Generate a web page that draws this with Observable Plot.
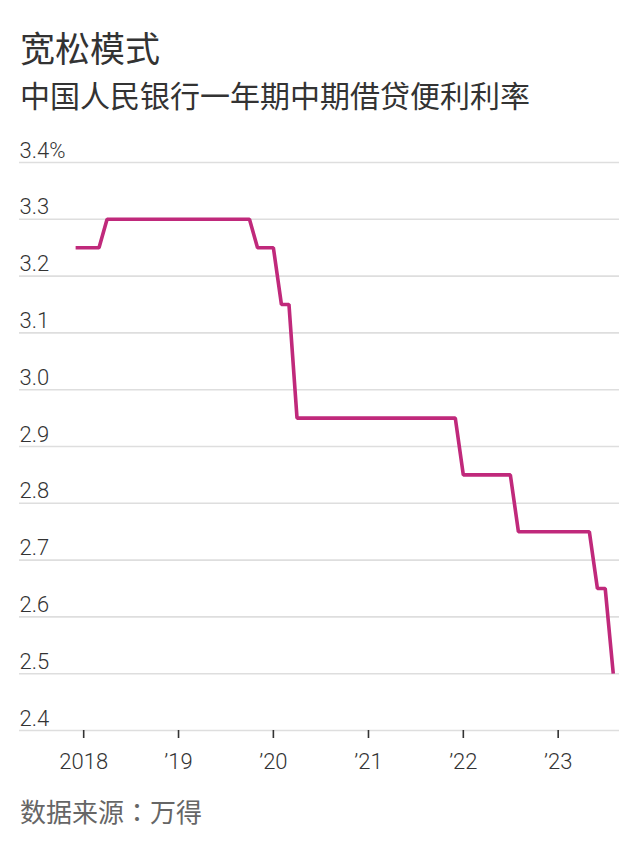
<!DOCTYPE html>
<html>
<head>
<meta charset="utf-8">
<script src="https://cdn.jsdelivr.net/npm/d3@7"></script>
<script src="https://cdn.jsdelivr.net/npm/@observablehq/plot@0.6"></script>
<style>
  html, body { margin: 0; padding: 0; background: #fff; }
  #wrap { position: relative; width: 639px; height: 852px; overflow: hidden; }
  .t { position: absolute; left: 20px; white-space: nowrap; font-family: "Noto Sans CJK SC", "Noto Sans", sans-serif; }
  #title { top: 29px; font-size: 35px; line-height: 35px; color: #333; }
  #subtitle { top: 79px; font-size: 30px; line-height: 30px; color: #333; }
  #caption { top: 798px; font-size: 26px; line-height: 26px; color: #666; }
  #caption .colon { font-family: "Noto Sans CJK TC", "Noto Sans CJK JP", sans-serif; }
  #chart { position: absolute; left: 0; top: 130px; }
</style>
</head>
<body>
<div id="wrap">
  <div class="t" id="title">宽松模式</div>
  <div class="t" id="subtitle">中国人民银行一年期中期借贷便利利率</div>
  <div id="chart"></div>
  <div class="t" id="caption">数据来源<span class="colon">：</span>万得</div>
</div>
<script>
// Monthly 1-year MLF rate (%), first of month
const months = [
  "2017-12",
  "2018-01","2018-02","2018-03","2018-04","2018-05","2018-06","2018-07","2018-08","2018-09","2018-10","2018-11","2018-12",
  "2019-01","2019-02","2019-03","2019-04","2019-05","2019-06","2019-07","2019-08","2019-09","2019-10","2019-11","2019-12",
  "2020-01","2020-02","2020-03","2020-04","2020-05","2020-06","2020-07","2020-08","2020-09","2020-10","2020-11","2020-12",
  "2021-01","2021-02","2021-03","2021-04","2021-05","2021-06","2021-07","2021-08","2021-09","2021-10","2021-11","2021-12",
  "2022-01","2022-02","2022-03","2022-04","2022-05","2022-06","2022-07","2022-08","2022-09","2022-10","2022-11","2022-12",
  "2023-01","2023-02","2023-03","2023-04","2023-05","2023-06","2023-07","2023-08"
];
const rates = [
  3.25,
  3.25,3.25,3.25,3.30,3.30,3.30,3.30,3.30,3.30,3.30,3.30,3.30,
  3.30,3.30,3.30,3.30,3.30,3.30,3.30,3.30,3.30,3.30,3.25,3.25,
  3.25,3.15,3.15,2.95,2.95,2.95,2.95,2.95,2.95,2.95,2.95,2.95,
  2.95,2.95,2.95,2.95,2.95,2.95,2.95,2.95,2.95,2.95,2.95,2.95,
  2.85,2.85,2.85,2.85,2.85,2.85,2.85,2.75,2.75,2.75,2.75,2.75,
  2.75,2.75,2.75,2.75,2.75,2.65,2.65,2.50
];
const yTicks = [2.4, 2.5, 2.6, 2.7, 2.8, 2.9, 3.0, 3.1, 3.2, 3.3, 3.4];
const yTickLabels = ["2.4","2.5","2.6","2.7","2.8","2.9","3.0","3.1","3.2","3.3","3.4%"];
const xTickDates = ["2018-01-01","2019-01-01","2020-01-01","2021-01-01","2022-01-01","2023-01-01"];
const xTickLabels = ["2018","’19","’20","’21","’22","’23"];
const xDomain = ["2017-04-29", "2023-08-25"];

const data = months.map((m, i) => ({date: new Date(m + "-01T00:00:00Z"), rate: rates[i]}));
const xTicks = xTickDates.map(d => new Date(d + "T00:00:00Z"));

const numFont = "Roboto, 'DejaVu Sans Condensed', sans-serif";

const chart = Plot.plot({
  width: 639,
  height: 650,
  marginLeft: 19,
  marginRight: 20,
  marginTop: 32,
  marginBottom: 50,
  style: {fontFamily: numFont, fontSize: "22px", color: "#333", background: "transparent", overflow: "visible"},
  x: {type: "utc", domain: xDomain.map(d => new Date(d + "T00:00:00Z")), label: null},
  y: {domain: [2.4, 3.4], label: null},
  marks: [
    Plot.ruleY(yTicks, {stroke: "#dedede", strokeWidth: 1.6}),
    Plot.axisY(yTicks, {
      anchor: "left", tickSize: 0, tickPadding: 0, textAnchor: "start", dy: -12, label: null,
      tickFormat: (d) => yTickLabels[yTicks.indexOf(d)],
      fill: "#333", fontWeight: 300
    }),
    Plot.axisX(xTicks, {
      anchor: "bottom", tickSize: 8, tickPadding: 15, strokeWidth: 1.6, stroke: "#333", label: null,
      tickFormat: (d) => xTickLabels[xTicks.findIndex(t => +t === +d)],
      fill: "#333", fontWeight: 300
    }),
    Plot.line(data, {x: "date", y: "rate", stroke: "#c0297b", strokeWidth: 3.6, strokeLinejoin: "miter", strokeLinecap: "butt"})
  ]
});
document.getElementById("chart").appendChild(chart);
</script>
</body>
</html>
